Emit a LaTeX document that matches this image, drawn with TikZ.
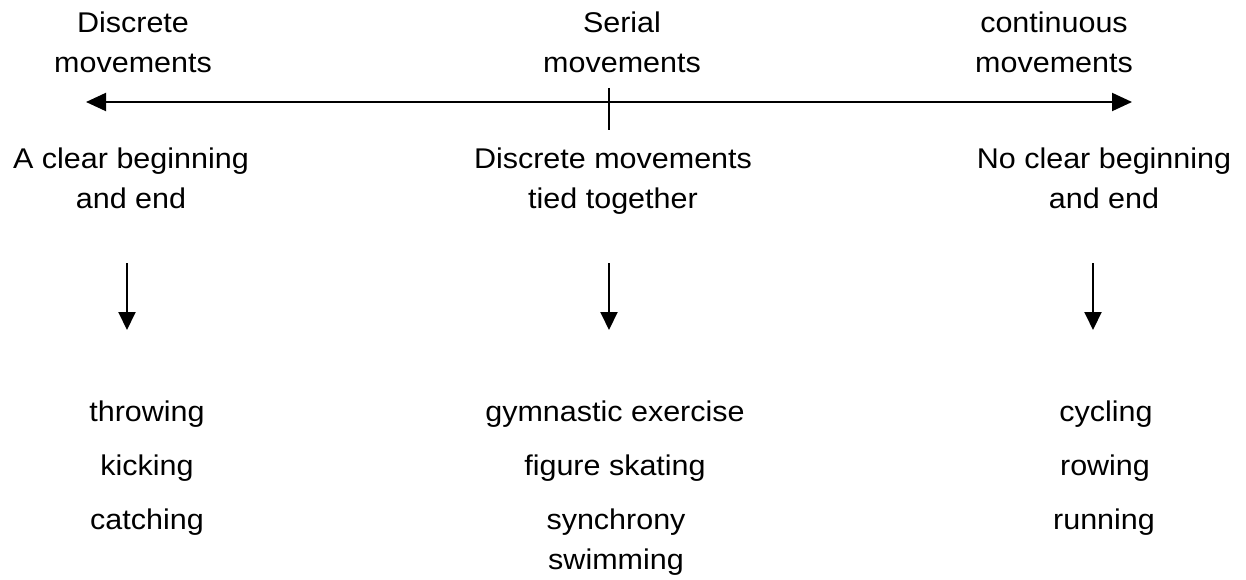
\documentclass[tikz,border=0pt]{standalone}
\usepackage{fontspec}
\setmainfont{Liberation Sans}[FakeStretch=1.07]
\usetikzlibrary{arrows.meta}
\begin{document}
\begin{tikzpicture}[x=1pt,y=-1pt,
  lbl/.style={anchor=base,align=center,inner sep=0pt,font=\fontsize{28.5}{40}\selectfont},
  axis/.style={line width=2pt,{Triangle[length=20pt,width=18pt]}-{Triangle[length=20pt,width=18pt]}},
  tick/.style={line width=2pt},
  down/.style={line width=2pt,-{Triangle[length=18pt,width=17pt]}}]
\useasboundingbox (0,0) rectangle (1246,580);
% top labels (base anchor = last line)
\node[lbl] (dtop) at (133,73) {Discrete\\movements};
\node[lbl] (stop) at (622,73) {Serial\\movements};
\node[lbl] (ctop) at (1054,73) {continuous\\movements};
% axis
\coordinate (axL) at (86,102);
\coordinate (axR) at (1132,102);
\coordinate (tkT) at (609,88);
\coordinate (tkB) at (609,130);
\draw[axis] (axL) -- (axR);
\draw[tick] (tkT) -- (tkB);
% descriptions
\node[lbl] (ddesc) at (131,208) {A clear beginning\\and end};
\node[lbl] (sdesc) at (613,208) {Discrete movements\\tied together};
\node[lbl] (cdesc) at (1104,208) {No clear beginning\\and end};
% down arrows
\coordinate (dA) at (127,263);
\coordinate (dB) at (127,330);
\coordinate (sA) at (609,263);
\coordinate (sB) at (609,330);
\coordinate (cA) at (1093,263);
\coordinate (cB) at (1093,330);
\draw[down] (dA) -- (dB);
\draw[down] (sA) -- (sB);
\draw[down] (cA) -- (cB);
% examples
\node[lbl] (d1) at (147,421) {throwing};
\node[lbl] (d2) at (147,475) {kicking};
\node[lbl] (d3) at (147,529) {catching};
\node[lbl] (s1) at (615,421) {gymnastic exercise};
\node[lbl] (s2) at (615,475) {figure skating};
\node[lbl] (s3) at (616,569) {synchrony\\swimming};
\node[lbl] (c1) at (1106,421) {cycling};
\node[lbl] (c2) at (1105,475) {rowing};
\node[lbl] (c3) at (1104,529) {running};
\end{tikzpicture}
\end{document}
